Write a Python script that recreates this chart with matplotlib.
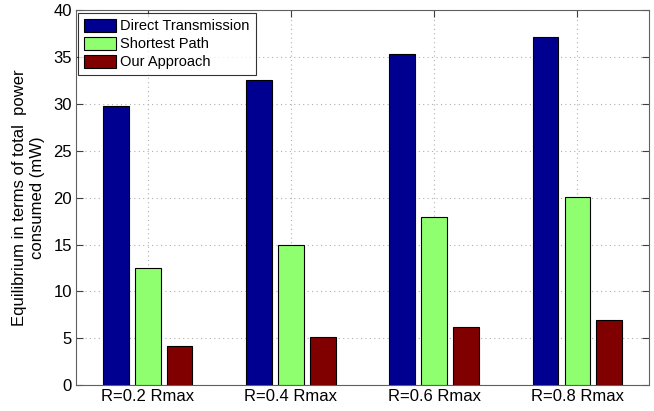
import matplotlib.pyplot as plt
import numpy as np

plt.rcParams['font.family'] = ['Liberation Sans', 'DejaVu Sans']

# Data
categories = ['R=0.2 Rmax', 'R=0.4 Rmax', 'R=0.6 Rmax', 'R=0.8 Rmax']
series_names = ['Direct Transmission', 'Shortest Path', 'Our Approach']
direct = [29.75, 32.55, 35.3, 37.15]
shortest = [12.45, 14.9, 17.9, 20.1]
ours = [4.2, 5.1, 6.2, 6.9]
y_ticks = [0, 5, 10, 15, 20, 25, 30, 35, 40]

colors = ['#000090', '#8FFF70', '#800000']

fig = plt.figure(figsize=(6.54, 4.11), dpi=100)
ax = fig.add_axes([0.1162, 0.0633, 0.8762, 0.9112])

x = np.arange(1, len(categories) + 1)
offsets = [-0.222, 0.0, 0.222]
width = 0.18
for vals, name, col, off in zip([direct, shortest, ours], series_names, colors, offsets):
    ax.bar(x + off, vals, width=width, color=col, edgecolor='black',
           linewidth=0.8, label=name, zorder=3)

ax.set_xlim(0.5, 4.5)
ax.set_ylim(0, 40)
ax.set_xticks(x)
ax.set_xticklabels(categories, fontsize=12)
ax.set_yticks(y_ticks)
ax.tick_params(axis='y', labelsize=12)
ax.tick_params(direction='in', top=True, right=True, length=5, width=0.8,
               color='#404040', pad=3)

ax.grid(True, linestyle=(0, (1, 3)), color='#b0b0b0', linewidth=0.8, zorder=0)
for s in ax.spines.values():
    s.set_color('#606060')
    s.set_linewidth(0.8)

ax.set_ylabel('Equilibrium in terms of total  power\nconsumed (mW)', fontsize=12,
              labelpad=6)

leg = ax.legend(loc='upper left', fontsize=10.5, frameon=True, fancybox=False,
                edgecolor='black', borderaxespad=0.15, handlelength=2.2,
                handleheight=1.0, labelspacing=0.25, borderpad=0.4,
                handletextpad=0.3)
leg.get_frame().set_linewidth(0.8)

fig.savefig('out.png', dpi=100)
